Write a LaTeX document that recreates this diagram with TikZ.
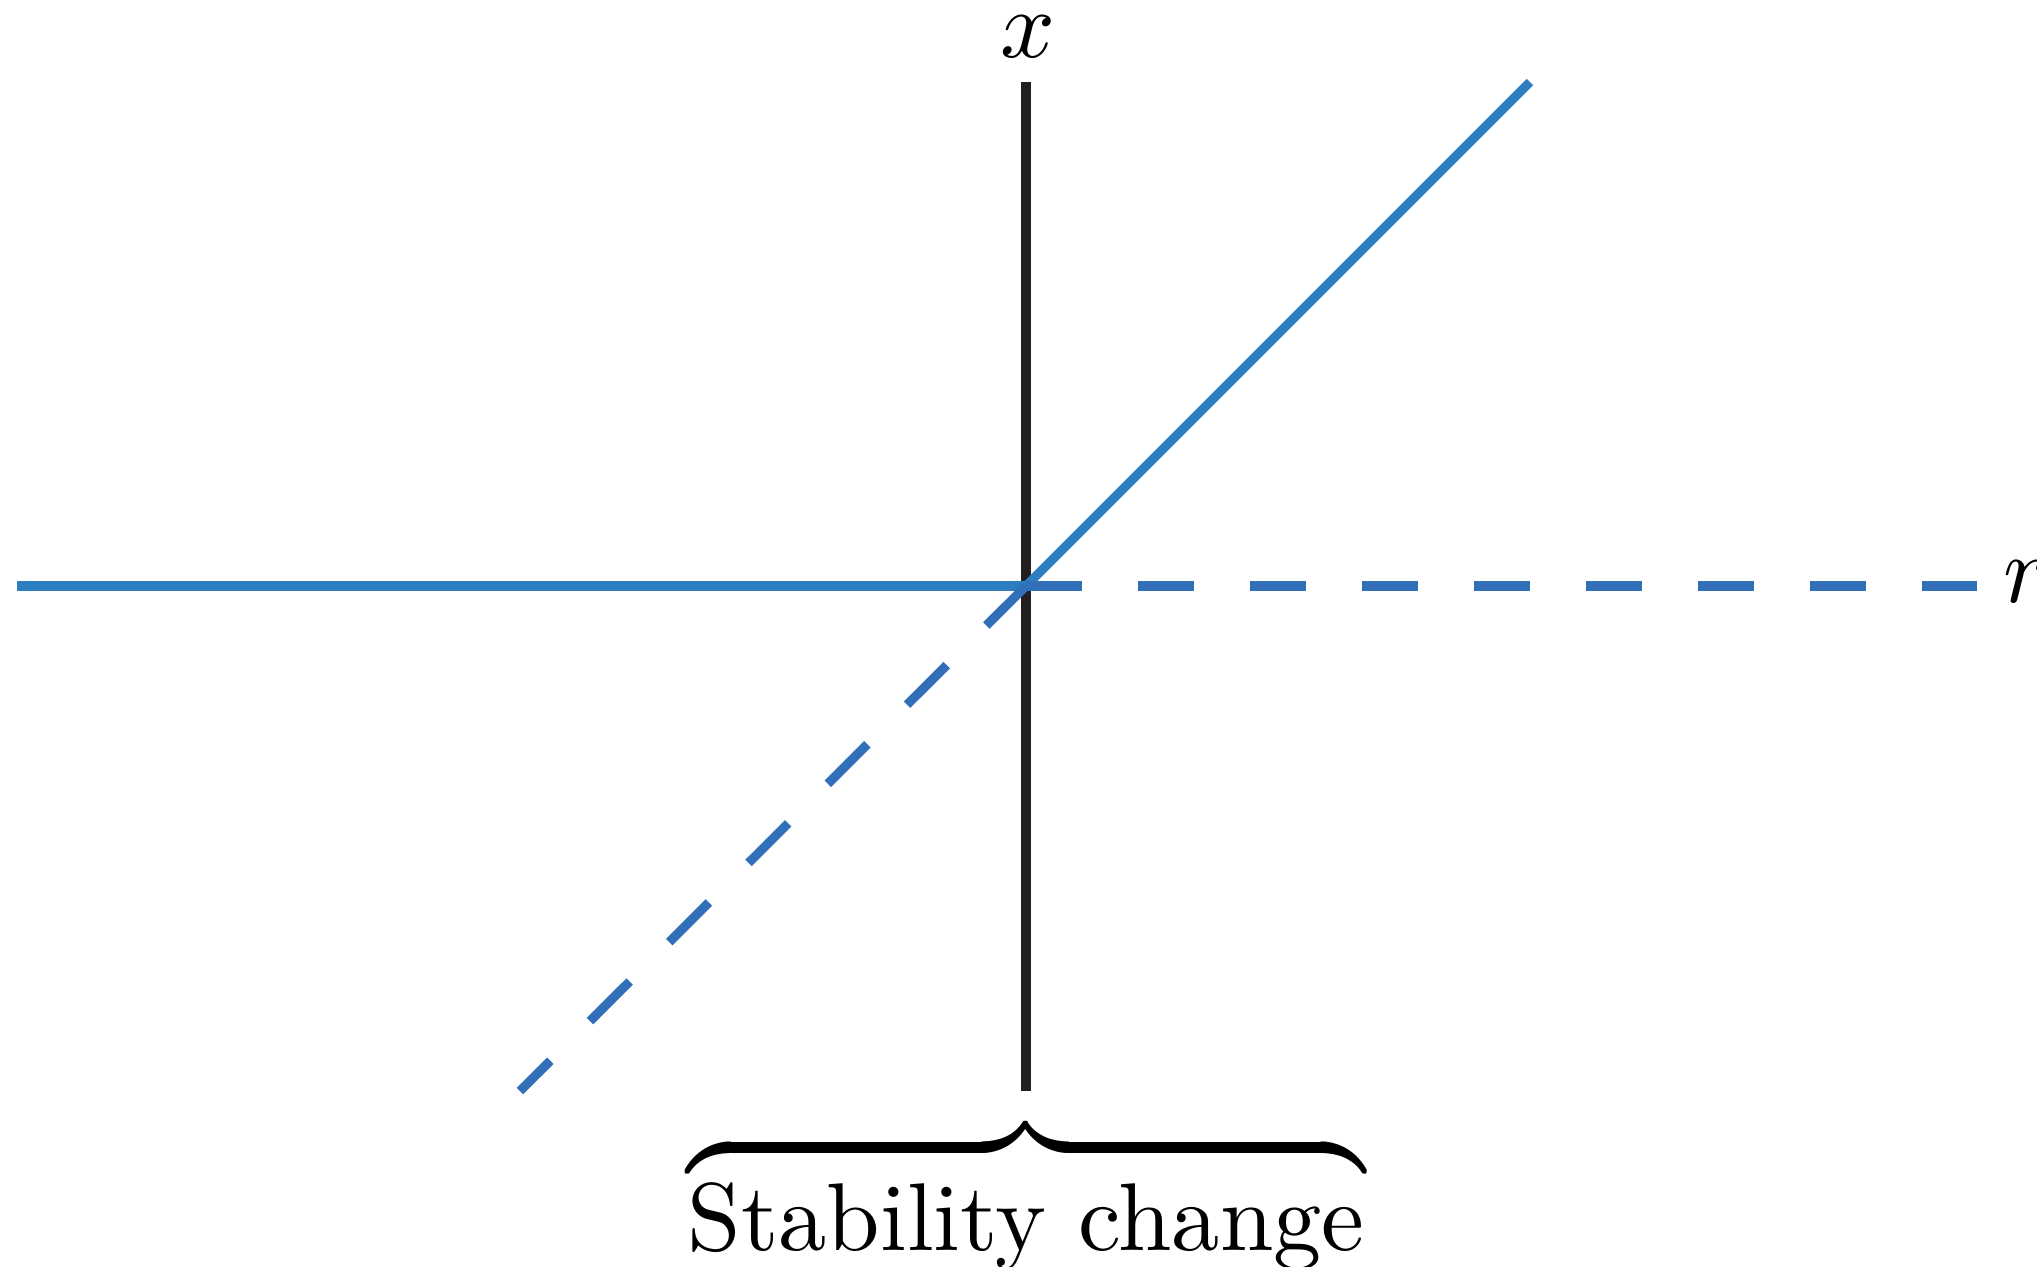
\documentclass[tikz,border=0pt]{standalone}
\usepackage{tikz}
\usetikzlibrary{positioning}
\definecolor{Ink}{HTML}{231F20}
\definecolor{StableBlue}{HTML}{2C7EC1}
\definecolor{UnstableBlue}{HTML}{3170B8}

\begin{document}
\begin{tikzpicture}[x=1cm,y=1cm,
    axis/.style={line width=2.6pt,Ink},
    stable/.style={line width=2.6pt,StableBlue},
    unstable/.style={line width=2.6pt,UnstableBlue,dash pattern=on 0.56cm off 0.56cm},
    lab/.style={inner sep=0pt,scale=2.74}]
        \useasboundingbox (-10.26,-6.80) rectangle (10.11,5.86);
        \coordinate (O) at (0,0);
        \coordinate (axtop) at (0,5.04);
        \coordinate (axbot) at (0,-5.05);
        \coordinate (left) at (-10.09,0);
        \coordinate (right) at (9.51,0);
        \coordinate (upright) at (5.04,5.04);
        \coordinate (lowleft) at (-5.06,-5.05);
        \draw[axis] (axbot)--(axtop);
        \draw[stable] (left)--(O);
        \draw[stable] (O)--(upright);
        \draw[unstable] (O)--(right);
        \draw[unstable] (O)--(lowleft);
        \node[lab,anchor=base] (xlab) at (0.02,5.29) {$x$};
        \node[lab,anchor=base west] (rlab) at (9.76,-0.16) {$r$};
        \node[lab,anchor=base] (change) at (0,-6.64) {$\overbrace{\mbox{Stability change}}$};
      \end{tikzpicture}
\end{document}
